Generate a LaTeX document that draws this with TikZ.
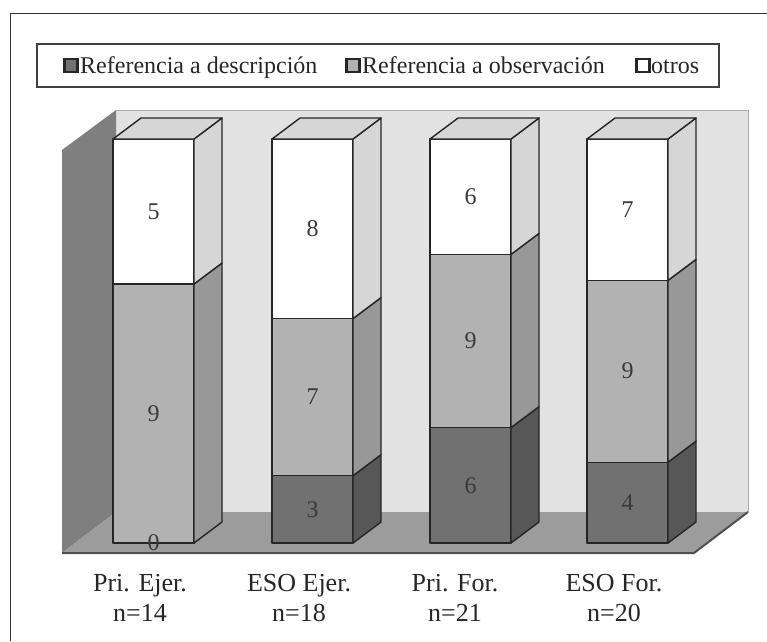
\documentclass[tikz,border=0pt]{standalone}
\usepackage{fontspec}
\setmainfont{Liberation Serif}
\definecolor{wallc}{HTML}{E2E2E2}
\definecolor{walledge}{HTML}{A8A8A8}
\definecolor{leftwallc}{HTML}{7F7F7F}
\definecolor{floorc}{HTML}{9C9C9C}
\definecolor{flooredge}{HTML}{505050}
\definecolor{whitefront}{HTML}{FFFFFF}
\definecolor{whiteside}{HTML}{D6D6D6}
\definecolor{medfront}{HTML}{B2B2B2}
\definecolor{medside}{HTML}{989898}
\definecolor{darkfront}{HTML}{717171}
\definecolor{darkside}{HTML}{575757}
\definecolor{numtext}{HTML}{3A3A3A}
\newcommand{\barseg}[5]{%
  \filldraw[barline, fill=#4] (#1,#2) rectangle (#1+81,#3);
  \filldraw[barline, fill=#5] (#1+81,#2) -- (#1+109,#2-21) -- (#1+109,#3-21) -- (#1+81,#3) -- cycle;
}
\newcommand{\bartop}[2]{%
  \filldraw[barline, fill=whiteside] (#1,#2) -- (#1+28,#2-21) -- (#1+109,#2-21) -- (#1+81,#2) -- cycle;
}
\begin{document}
\begin{tikzpicture}[x=1pt,y=-1pt,
  barline/.style={draw=black!85, line width=1.4pt, line join=round},
  numlab/.style={font=\fontsize{24}{28}\selectfont, text=numtext, inner sep=0pt},
  catlab/.style={font=\fontsize{26}{30}\selectfont, align=center, anchor=north, inner sep=0pt, text=black!85},
  legtext/.style={font=\fontsize{24}{28}\selectfont, anchor=base west, inner sep=0pt, text=black!85},
  legsq/.style={draw=black!85, line width=2.4pt, minimum size=13pt, inner sep=0pt}]
\useasboundingbox (0,0) rectangle (767,641);
% outer frame
\draw[black!80, line width=1pt] (10,641) -- (10,13) -- (767,13);
% legend
\draw[black!75, line width=1.2pt] (37,44) rectangle (719,87);
\node[legsq, fill=darkfront] (sq1) at (71,65.5) {};
\node[legtext] (lt1) at (80,73) {Referencia a descripción};
\node[legsq, fill=medfront] (sq2) at (353,65.5) {};
\node[legtext] (lt2) at (362,73) {Referencia a observación};
\node[legsq, fill=white] (sq3) at (643,65.5) {};
\node[legtext] (lt3) at (651,73) {otros};
% walls and floor
\fill[wallc] (116,110) rectangle (748,512);
\draw[walledge, line width=0.8pt] (116,110) -- (748,110) -- (748,512);
\fill[leftwallc] (62,150) -- (116,110) -- (116,512) -- (62,553) -- cycle;
\fill[floorc] (62,553) -- (116,512) -- (748,512) -- (694,553) -- cycle;
\draw[flooredge, line width=2pt] (62,553) -- (694,553) -- (748,512);
% bar 1
\barseg{113}{284}{543}{medfront}{medside}
\barseg{113}{139}{284}{whitefront}{whiteside}
\bartop{113}{139}
% bar 2
\barseg{272}{475.7}{543}{darkfront}{darkside}
\barseg{272}{318.6}{475.7}{medfront}{medside}
\barseg{272}{139}{318.6}{whitefront}{whiteside}
\bartop{272}{139}
% bar 3
\barseg{430}{427.6}{543}{darkfront}{darkside}
\barseg{430}{254.4}{427.6}{medfront}{medside}
\barseg{430}{139}{254.4}{whitefront}{whiteside}
\bartop{430}{139}
% bar 4
\barseg{587}{462.2}{543}{darkfront}{darkside}
\barseg{587}{280.4}{462.2}{medfront}{medside}
\barseg{587}{139}{280.4}{whitefront}{whiteside}
\bartop{587}{139}
% value labels
\node[numlab] (v1w) at (153.5,211.5) {5};
\node[numlab] (v1m) at (153.5,413.5) {9};
\node[numlab] (v1d) at (153.5,543) {0};
\node[numlab] (v2w) at (312.5,229) {8};
\node[numlab] (v2m) at (312.5,397) {7};
\node[numlab] (v2d) at (312.5,509.5) {3};
\node[numlab] (v3w) at (470.5,196.5) {6};
\node[numlab] (v3m) at (470.5,341) {9};
\node[numlab] (v3d) at (470.5,485.5) {6};
\node[numlab] (v4w) at (627.5,209.5) {7};
\node[numlab] (v4m) at (627.5,371) {9};
\node[numlab] (v4d) at (627.5,502.5) {4};
% category labels
\node[catlab] (c1) at (140,574) {Pri. Ejer.\\n=14};
\node[catlab] (c2) at (299,574) {ESO Ejer.\\n=18};
\node[catlab] (c3) at (455,574) {Pri. For.\\n=21};
\node[catlab] (c4) at (614,574) {ESO For.\\n=20};
\end{tikzpicture}
\end{document}
